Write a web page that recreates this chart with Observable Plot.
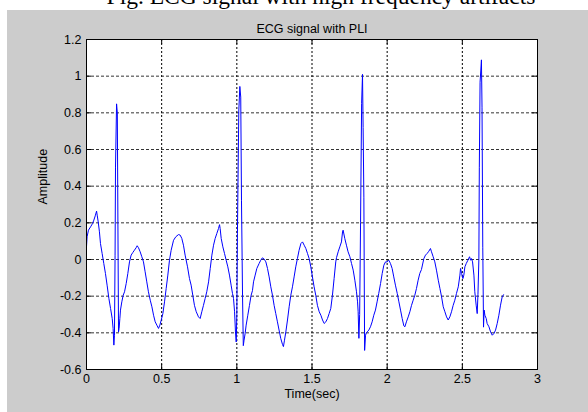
<!DOCTYPE html>
<html>
<head>
<meta charset="utf-8">
<script src="https://cdn.jsdelivr.net/npm/d3@7"></script>
<script src="https://cdn.jsdelivr.net/npm/@observablehq/plot@0.6"></script>
<style>
  html, body { margin: 0; padding: 0; background: #ffffff; width: 588px; height: 412px; overflow: hidden; }
  #caption { position: absolute; top: -15px; left: 321px; transform: translateX(-50%); white-space: nowrap;
    font-family: "Liberation Serif", "Times New Roman", serif; font-size: 23.5px; line-height: 22px; color: #000; }
  #chart { position: absolute; left: 7px; top: 10px; }
</style>
</head>
<body>
<div id="caption">Fig. ECG signal with high frequency artifacts</div>
<div id="chart"></div>
<script>
const chartTitle = "ECG signal with PLI";
const xLabel = "Time(sec)";
const yLabel = "Amplitude";

const xTicks = [0, 0.5, 1, 1.5, 2, 2.5, 3];
const xTickLabels = ["0", "0.5", "1", "1.5", "2", "2.5", "3"];
const yTicks = [-0.6, -0.4, -0.2, 0, 0.2, 0.4, 0.6, 0.8, 1, 1.2];
const yTickLabels = ["-0.6", "-0.4", "-0.2", "0", "0.2", "0.4", "0.6", "0.8", "1", "1.2"];

const timeSec = [
  0.000, 0.004, 0.013, 0.027, 0.040, 0.049, 0.058, 0.067, 0.071, 0.078, 0.086, 0.093, 0.104, 0.115, 0.126, 0.137, 0.149, 0.160, 0.171, 0.177, 0.182, 0.186,
  0.190, 0.193, 0.200, 0.205, 0.209, 0.213, 0.217, 0.222, 0.226, 0.235, 0.244, 0.253, 0.264, 0.275, 0.286, 0.297, 0.308, 0.319, 0.330, 0.337, 0.346, 0.357,
  0.368, 0.379, 0.390, 0.401, 0.412, 0.424, 0.435, 0.446, 0.457, 0.468, 0.479, 0.488, 0.497, 0.508, 0.519, 0.530, 0.541, 0.552,
  0.563, 0.579, 0.594, 0.612, 0.623, 0.634, 0.645, 0.656, 0.672, 0.685, 0.696, 0.707, 0.718, 0.730, 0.745, 0.756, 0.767, 0.778, 0.789, 0.800, 0.812, 0.823,
  0.834, 0.845, 0.856, 0.867, 0.878, 0.885, 0.889, 0.896, 0.907, 0.918, 0.929, 0.940, 0.951, 0.962, 0.971, 0.978, 0.985, 0.991, 0.996,
  1.000, 1.004, 1.013, 1.020, 1.026, 1.031, 1.038, 1.043, 1.048, 1.055, 1.062, 1.073, 1.084, 1.095, 1.104, 1.111, 1.122, 1.133, 1.148, 1.159, 1.170, 1.182,
  1.193, 1.204, 1.215, 1.226, 1.237, 1.248, 1.259, 1.270, 1.281, 1.292, 1.304, 1.310, 1.317, 1.326, 1.337, 1.348, 1.359, 1.370, 1.381, 1.392, 1.403, 1.414,
  1.426, 1.437, 1.448, 1.459, 1.470, 1.481, 1.492, 1.503, 1.514, 1.525, 1.536, 1.548, 1.559, 1.570, 1.581, 1.592, 1.603, 1.614, 1.625, 1.636, 1.647, 1.658,
  1.663, 1.674, 1.685, 1.696, 1.703, 1.707, 1.718, 1.729, 1.740, 1.752, 1.763, 1.774, 1.785, 1.796, 1.803, 1.807, 1.812,
  1.817, 1.823, 1.830, 1.836, 1.840, 1.845, 1.850, 1.856, 1.862, 1.867, 1.878, 1.889, 1.900, 1.911, 1.922, 1.933, 1.944, 1.956, 1.967, 1.978, 1.989, 2.000,
  2.011, 2.022, 2.033, 2.044, 2.055, 2.067, 2.078, 2.089, 2.100, 2.111, 2.118, 2.128, 2.140, 2.151, 2.162, 2.173, 2.184, 2.195, 2.206, 2.217, 2.228, 2.244,
  2.255, 2.266, 2.277, 2.288, 2.295, 2.306, 2.317, 2.328, 2.340, 2.351, 2.362, 2.373, 2.384, 2.395, 2.406, 2.417, 2.428, 2.439, 2.450, 2.461, 2.473, 2.484,
  2.488, 2.495, 2.504, 2.510, 2.517, 2.526, 2.537, 2.548, 2.555, 2.561, 2.568, 2.577, 2.583, 2.592, 2.599, 2.604,
  2.610, 2.613, 2.618, 2.627, 2.631, 2.636, 2.641, 2.645, 2.650, 2.659, 2.665, 2.677, 2.688, 2.699, 2.710, 2.721, 2.732, 2.743, 2.754, 2.765, 2.774
];

const amplitude = [
  0.069, 0.124, 0.160, 0.178, 0.196, 0.215, 0.238, 0.264, 0.242, 0.205, 0.151, 0.087, 0.033, -0.022, -0.076, -0.140, -0.213, -0.267, -0.322, -0.376, -0.467, -0.413,
  0.020, 0.504, 0.849, 0.800, 0.200, -0.395, -0.376, -0.322, -0.276, -0.231, -0.195, -0.176, -0.131, -0.076, -0.013, 0.024, 0.038, 0.051, 0.064, 0.075, 0.064, 0.042,
  0.015, -0.013, -0.067, -0.122, -0.176, -0.222, -0.258, -0.304, -0.340, -0.358, -0.376, -0.358, -0.331, -0.295, -0.231, -0.158, -0.085, -0.004,
  0.050, 0.105, 0.124, 0.136, 0.133, 0.115, 0.078, 0.024, -0.040, -0.104, -0.140, -0.195, -0.250, -0.285, -0.313, -0.322, -0.285, -0.250, -0.213, -0.176, -0.122, -0.049,
  0.024, 0.078, 0.115, 0.142, 0.169, 0.190, 0.169, 0.115, 0.069, 0.033, -0.004, -0.040, -0.085, -0.140, -0.185, -0.213, -0.285, -0.395, -0.450,
  -0.300, 0.140, 0.810, 0.944, 0.886, 0.320, -0.200, -0.470, -0.440, -0.405, -0.358, -0.304, -0.250, -0.195, -0.170, -0.122, -0.085, -0.049, -0.022, -0.004, 0.009, 0.002,
  -0.013, -0.049, -0.095, -0.149, -0.195, -0.250, -0.295, -0.340, -0.385, -0.430, -0.464, -0.475, -0.440, -0.395, -0.330, -0.258, -0.195, -0.149, -0.095, -0.040, 0.005, 0.050,
  0.087, 0.096, 0.078, 0.060, 0.033, 0.005, -0.040, -0.095, -0.149, -0.195, -0.250, -0.285, -0.304, -0.330, -0.349, -0.340, -0.322, -0.295, -0.267, -0.195, -0.104, -0.013,
  0.010, 0.042, 0.069, 0.096, 0.150, 0.160, 0.115, 0.078, 0.042, 0.015, -0.022, -0.058, -0.113, -0.176, -0.231, -0.285, -0.430,
  -0.300, 0.200, 0.850, 1.010, 0.720, 0.340, -0.496, -0.413, -0.400, -0.395, -0.385, -0.367, -0.340, -0.304, -0.276, -0.231, -0.185, -0.131, -0.076, -0.031, -0.013, -0.013,
  -0.004, -0.022, -0.049, -0.095, -0.140, -0.185, -0.231, -0.276, -0.322, -0.362, -0.367, -0.340, -0.313, -0.285, -0.250, -0.222, -0.195, -0.158, -0.113, -0.076, -0.055, 0.005,
  0.024, 0.033, 0.045, 0.060, 0.042, 0.015, -0.013, -0.058, -0.113, -0.158, -0.204, -0.258, -0.285, -0.313, -0.330, -0.313, -0.285, -0.250, -0.222, -0.185, -0.149, -0.085,
  -0.049, -0.076, -0.104, -0.085, -0.040, -0.022, -0.004, 0.015, -0.004, 0.005, -0.013, -0.085, -0.176, -0.249, -0.295, -0.190,
  0.000, 0.500, 0.967, 1.089, 0.831, 0.067, -0.369, -0.276, -0.304, -0.322, -0.349, -0.367, -0.395, -0.413, -0.404, -0.385, -0.349, -0.304, -0.249, -0.204, -0.192
];

const ecg = timeSec.map((t, i) => ({t, v: amplitude[i]}));

const gridColor = "#000000";
const chart = Plot.plot({
  width: 581,
  height: 402,
  marginLeft: 79,
  marginRight: 51,
  marginTop: 29,
  marginBottom: 43,
  x: {domain: [0, 3]},
  y: {domain: [-0.6, 1.2]},
  style: {
    background: "#cccccc",
    color: "#000000",
    fontFamily: "'Liberation Sans', Arial, Helvetica, sans-serif",
    fontSize: "12.5px",
    overflow: "visible"
  },
  marks: [
    Plot.frame({fill: "#ffffff", stroke: "none"}),
    Plot.gridX(xTicks, {stroke: gridColor, strokeOpacity: 1, strokeDasharray: "2,2"}),
    Plot.gridY(yTicks, {stroke: gridColor, strokeOpacity: 0.8, strokeDasharray: "3,2"}),
    Plot.line(ecg, {x: "t", y: "v", stroke: "#0000ff", strokeWidth: 1}),
    // inward tick marks on all four sides (MATLAB box style)
    Plot.ruleX(xTicks, {x: d => d, y1: yTicks[0], y2: yTicks[0], insetTop: -5, stroke: "#000"}),
    Plot.ruleX(xTicks, {x: d => d, y1: yTicks[yTicks.length - 1], y2: yTicks[yTicks.length - 1], insetBottom: -5, stroke: "#000"}),
    Plot.ruleY(yTicks, {y: d => d, x1: xTicks[0], x2: xTicks[0], insetRight: -5, stroke: "#000"}),
    Plot.ruleY(yTicks, {y: d => d, x1: xTicks[xTicks.length - 1], x2: xTicks[xTicks.length - 1], insetLeft: -5, stroke: "#000"}),
    Plot.frame({stroke: "#000000", strokeWidth: 1}),
    Plot.axisX(xTicks, {tickSize: 0, tickPadding: 5, label: null, tickFormat: d => xTickLabels[xTicks.indexOf(d)]}),
    Plot.axisY(yTicks, {tickSize: 0, tickPadding: 5, label: null, tickFormat: d => yTickLabels[yTicks.indexOf(d)]}),
    Plot.text([chartTitle], {text: d => d, frameAnchor: "top", dy: -15, fontSize: 12.5}),
    Plot.text([xLabel], {text: d => d, frameAnchor: "bottom", dy: 28, fontSize: 12.5}),
    Plot.text([yLabel], {text: d => d, frameAnchor: "left", dx: -44, rotate: -90, fontSize: 12.5})
  ]
});
document.getElementById("chart").appendChild(chart);
</script>
</body>
</html>
